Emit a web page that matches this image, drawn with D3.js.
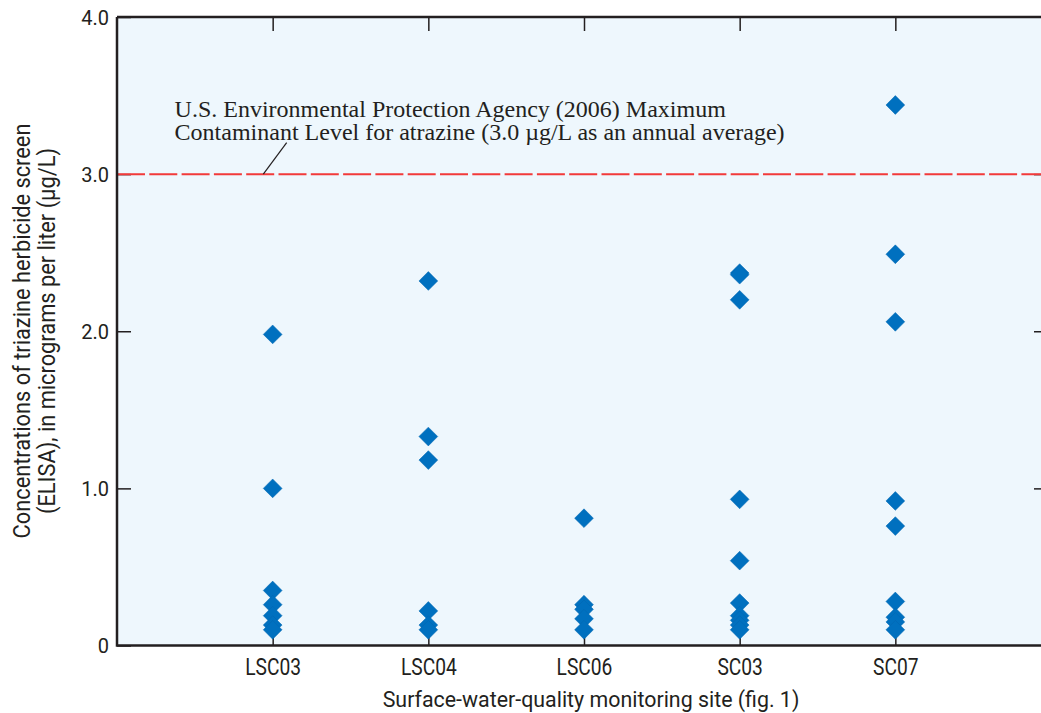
<!DOCTYPE html>
<html>
<head>
<meta charset="utf-8">
<script src="https://cdn.jsdelivr.net/npm/d3@7"></script>
<style>
  body { margin: 0; background: #fff; }
  svg { display: block; }
  .tick text { font-family: "Roboto", sans-serif; }
</style>
</head>
<body>
<div id="chart"></div>
<script>
// monitoring sites on the x axis
const sites = ['LSC03', 'LSC04', 'LSC06', 'SC03', 'SC07'];

// triazine concentrations (ug/L) per site
const lsc03 = [1.98, 1.0, 0.35, 0.26, 0.19, 0.13, 0.10];
const lsc04 = [2.32, 1.33, 1.18, 0.22, 0.13, 0.10];
const lsc06 = [0.81, 0.26, 0.23, 0.17, 0.10];
const sc03 = [2.37, 2.36, 2.20, 0.93, 0.54, 0.27, 0.19, 0.16, 0.13, 0.10];
const sc07 = [3.44, 2.49, 2.06, 0.92, 0.76, 0.28, 0.18, 0.15, 0.10];

const yTicks = [0, 1, 2, 3, 4];
const mcl = 3.0;

const noteLines = [
    'U.S. Environmental Protection Agency (2006) Maximum',
    'Contaminant Level for atrazine (3.0 \u00b5g/L as an annual average)'
];
const yTitle = [
    'Concentrations of triazine herbicide screen',
    '(ELISA), in micrograms per liter (\u00b5g/L)'
];
const xTitle = 'Surface-water-quality monitoring site (fig. 1)';

const width = 1041, height = 713;
const margin = { top: 17, right: -10, bottom: 67.5, left: 117 };
const w = width - margin.left - margin.right;
const h = height - margin.top - margin.bottom;

const points = [];
[lsc03, lsc04, lsc06, sc03, sc07].forEach((vals, i) => {
    vals.forEach(v => points.push({ site: i + 1, value: v }));
});

const svg = d3.select('#chart').append('svg')
    .attr('width', width)
    .attr('height', height);

const g = svg.append('g')
    .attr('transform', `translate(${margin.left}, ${margin.top})`);

const x = d3.scaleLinear().domain([0, sites.length + 1]).range([0, w]);
const y = d3.scaleLinear().domain([0, 4]).range([h, 0]);

const ink = '#231f20';
const fontSans = '"Roboto", sans-serif';

g.append('rect')
    .attr('width', w).attr('height', h)
    .attr('fill', '#eef7fd');

// inward ticks on all four sides
const tickLen = 14;
const yFmt = d => d === 0 ? '0' : d3.format('.1f')(d);

const yLeft = g.append('g')
    .call(d3.axisLeft(y).tickValues(yTicks).tickSizeInner(-tickLen).tickSizeOuter(0).tickPadding(8).tickFormat(yFmt));
const yRight = g.append('g')
    .attr('transform', `translate(${w}, 0)`)
    .call(d3.axisRight(y).tickValues(yTicks.slice(1, -1)).tickSizeInner(-(tickLen + 3)).tickSizeOuter(0).tickFormat(''));
const xBottom = g.append('g')
    .attr('transform', `translate(0, ${h})`)
    .call(d3.axisBottom(x).tickValues(d3.range(1, sites.length + 1)).tickSizeInner(-tickLen).tickSizeOuter(0)
        .tickPadding(12.5).tickFormat(d => sites[d - 1]));
const xTop = g.append('g')
    .call(d3.axisTop(x).tickValues(d3.range(1, sites.length + 1)).tickSizeInner(-tickLen).tickSizeOuter(0).tickFormat(''));

[yLeft, yRight, xBottom, xTop].forEach(a => {
    a.select('.domain').remove();
    a.selectAll('line').attr('stroke', ink).attr('stroke-width', 1.5);
    a.selectAll('text').attr('fill', ink).style('font-size', '20px');
});
yLeft.selectAll('text').attr('dy', '0.36em');
// site labels are set in a narrow face in the original
xBottom.selectAll('text')
    .style('font-size', '24px')
    .attr('transform', 'scale(0.8,1)');

// MCL line
g.append('line')
    .attr('x1', 0).attr('x2', w)
    .attr('y1', y(mcl)).attr('y2', y(mcl))
    .attr('stroke', '#f23a3a')
    .attr('stroke-width', 2)
    .attr('stroke-dasharray', '28,4.3');

// leader from the note to the line
g.append('line')
    .attr('x1', x(0.94)).attr('y1', y(mcl))
    .attr('x2', x(1.09)).attr('y2', y(3.2))
    .attr('stroke', ink).attr('stroke-width', 1.2);

const note = g.append('text')
    .attr('x', x(0.37))
    .attr('y', y(3.364))
    .attr('fill', ink)
    .style('font-family', '"Liberation Serif", "Times New Roman", serif')
    .style('font-size', '24px');
note.selectAll('tspan')
    .data(noteLines)
    .enter().append('tspan')
    .attr('x', x(0.37))
    .attr('dy', (d, i) => i == 0 ? 0 : 23.5)
    .text(d => d);

// points
g.append('g')
    .selectAll('path')
    .data(points)
    .enter().append('path')
    .attr('transform', d => `translate(${x(d.site)}, ${y(d.value)})`)
    .attr('d', d3.symbol(d3.symbolDiamond2, 225))
    .attr('fill', '#0070bf')
    .attr('stroke', '#0067b0')
    .attr('stroke-width', 0.5);

// frame
g.append('path')
    .attr('d', `M0,0V${h}H${w}M0,0H${w}`)
    .attr('fill', 'none')
    .attr('stroke', ink)
    .attr('stroke-width', 2.5);

// axis titles
svg.append('text')
    .attr('transform', 'translate(591, 707) scale(0.93,1)')
    .attr('text-anchor', 'middle')
    .attr('fill', ink)
    .style('font-family', fontSans)
    .style('font-size', '23px')
    .text(xTitle);

const yt = svg.append('text')
    .attr('transform', 'translate(30, 331) rotate(-90) scale(0.89,1)')
    .attr('text-anchor', 'middle')
    .attr('fill', ink)
    .style('font-family', fontSans)
    .style('font-size', '24.5px');
yt.selectAll('tspan')
    .data(yTitle)
    .enter().append('tspan')
    .attr('x', 0)
    .attr('dy', (d, i) => i == 0 ? 0 : 25.5)
    .text(d => d);
</script>
</body>
</html>
